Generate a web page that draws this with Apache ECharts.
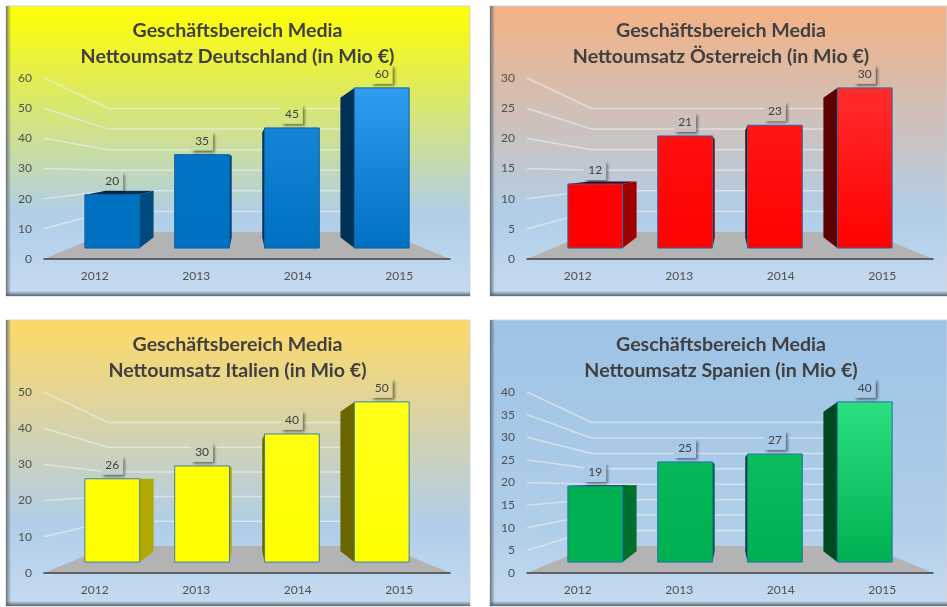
<!DOCTYPE html>
<html>
<head>
<meta charset="utf-8">
<style>
  html, body { margin: 0; padding: 0; background: #fff; }
  #chart { width: 947px; height: 607px; }
</style>
<script src="https://cdn.jsdelivr.net/npm/echarts@6/dist/echarts.min.js"></script>
</head>
<body>
<div id="chart"></div>
<script>
const years = ['2012', '2013', '2014', '2015'];

const umsatzDeutschland = [20, 35, 45, 60];
const umsatzOesterreich = [12, 21, 23, 30];
const umsatzItalien = [26, 30, 40, 50];
const umsatzSpanien = [19, 25, 27, 40];

const ticksDeutschland = [0, 10, 20, 30, 40, 50, 60];
const ticksOesterreich = [0, 5, 10, 15, 20, 25, 30];
const ticksItalien = [0, 10, 20, 30, 40, 50];
const ticksSpanien = [0, 5, 10, 15, 20, 25, 30, 35, 40];

const titles = [
  'Geschäftsbereich Media\nNettoumsatz Deutschland (in Mio €)',
  'Geschäftsbereich Media\nNettoumsatz Österreich (in Mio €)',
  'Geschäftsbereich Media\nNettoumsatz Italien (in Mio €)',
  'Geschäftsbereich Media\nNettoumsatz Spanien (in Mio €)'
];

// perspective planes, relative to the axis plane (k = 1)
const K_FRONT = 0.885;
const K_REAR = 0.77;
const K_WALL = 0.682;
const VP_BARS = 95;
const VP_WALL = 85;

const FONT = 'Lato, "Open Sans", sans-serif';

const panels = [
  { x: 6, y: 6, w: 464, h: 290, top: '#ffff00', titleX: 237.5, gl: 44, gt: 78, values: umsatzDeutschland, ticks: ticksDeutschland,
    light: '#2f9cf0', base: '#0070c0', sideR: '#004a80', sideL: '#003258', edge: '#0a62a8' },
  { x: 490, y: 6, w: 457, h: 290, top: '#f4b183', titleX: 721, gl: 527, gt: 78, values: umsatzOesterreich, ticks: ticksOesterreich,
    light: '#ff2c2c', base: '#ff0000', sideR: '#a00000', sideL: '#5c0000', edge: '#2a6aa8' },
  { x: 6, y: 320, w: 464, h: 286, top: '#ffd966', titleX: 237.5, gl: 44, gt: 392, values: umsatzItalien, ticks: ticksItalien,
    light: '#ffff1a', base: '#ffff00', sideR: '#b0a800', sideL: '#6a6600', edge: '#3a80a8' },
  { x: 490, y: 320, w: 457, h: 286, top: '#9dc3e6', titleX: 721, gl: 527, gt: 392, values: umsatzSpanien, ticks: ticksSpanien,
    light: '#2ce07f', base: '#00b050', sideR: '#00702f', sideL: '#004a22', edge: '#1f6fb0' }
];

const GRID_W = 406;
const GRID_H = 181;

function project(p, vp, k) {
  return [vp[0] + (p[0] - vp[0]) * k, vp[1] + (p[1] - vp[1]) * k];
}

function vanishing(coordSys, above) {
  return [coordSys.x + coordSys.width / 2, coordSys.y + coordSys.height - above];
}

function panelFill(p, global) {
  const stops = [
    { offset: 0, color: p.top },
    { offset: 0.72, color: '#b0cee9' },
    { offset: 1, color: '#c6dbf1' }
  ];
  if (global) {
    return { type: 'linear', x: 0, y: p.y, x2: 0, y2: p.y + p.h, global: true, colorStops: stops };
  }
  return { type: 'linear', x: 0, y: 0, x2: 0, y2: 1, colorStops: stops };
}

function renderWall(params, api) {
  const cs = params.coordSys;
  const vp = vanishing(cs, VP_WALL);
  const v = api.value(1);
  const y = api.coord([0, v])[1];
  const left = [cs.x, y];
  const right = [cs.x + cs.width, y];
  const wl = project(left, vp, K_WALL);
  const wr = project(right, vp, K_WALL);
  if (v === 0) {
    return { type: 'polygon', shape: { points: [left, right, wr, wl] }, style: { fill: '#b3b3b3' }, silent: true };
  }
  return {
    type: 'polyline',
    shape: { points: [left, wl, wr] },
    style: { fill: 'none', stroke: 'rgba(236,236,236,0.65)', lineWidth: 1.5 },
    silent: true
  };
}

function renderBar(panel) {
  const maxVal = panel.ticks[panel.ticks.length - 1];
  return function (params, api) {
    const cs = params.coordSys;
    const vp = vanishing(cs, VP_BARS);
    const i = api.value(0);
    const v = api.value(1);
    const base = api.coord([i, 0]);
    const top = api.coord([i, v]);
    const half = api.size([1, 0])[0] * 0.305;
    const corner = (x, y, k) => project([x, y], vp, k);

    const fl = corner(base[0] - half, base[1], K_FRONT);
    const fr = corner(base[0] + half, base[1], K_FRONT);
    const tl = corner(base[0] - half, top[1], K_FRONT);
    const tr = corner(base[0] + half, top[1], K_FRONT);
    const rl = corner(base[0] - half, base[1], K_REAR);
    const rr = corner(base[0] + half, base[1], K_REAR);
    const rtl = corner(base[0] - half, top[1], K_REAR);
    const rtr = corner(base[0] + half, top[1], K_REAR);

    const children = [];
    if (tl[1] > vp[1]) {
      children.push({ type: 'polygon', shape: { points: [tl, tr, rtr, rtl] }, style: { fill: panel.sideL } });
    }
    if (fl[0] > vp[0]) {
      children.push({ type: 'polygon', shape: { points: [fl, tl, rtl, rl] }, style: { fill: panel.sideL } });
    }
    if (fr[0] < vp[0]) {
      children.push({ type: 'polygon', shape: { points: [fr, tr, rtr, rr] }, style: { fill: panel.sideR } });
    }
    // taller bars pick up more of the light top colour
    const glow = Math.max(0, Math.min(1, (v / maxVal - 0.55) / 0.45));
    children.push({
      type: 'polygon',
      shape: { points: [tl, tr, fr, fl] },
      style: {
        fill: {
          type: 'linear', x: 0, y: 0, x2: 0, y2: 1,
          colorStops: [
            { offset: 0, color: echarts.color.lerp(glow, [panel.base, panel.light]) },
            { offset: 1, color: panel.base }
          ]
        },
        stroke: panel.edge,
        lineWidth: 1
      }
    });
    const cx = (tl[0] + tr[0]) / 2;
    children.push({
      type: 'rect',
      z2: 9,
      shape: { x: cx - 11, y: tl[1] - 23, width: 22, height: 19 },
      style: {
        fill: panelFill(panel, true),
        shadowColor: 'rgba(0,0,0,0.55)',
        shadowBlur: 3,
        shadowOffsetX: 2,
        shadowOffsetY: 2
      }
    });
    children.push({
      type: 'text',
      z2: 10,
      style: {
        x: cx,
        y: tl[1] - 14,
        text: String(v),
        align: 'center',
        verticalAlign: 'middle',
        fill: '#404040',
        font: '12px ' + FONT
      }
    });
    return { type: 'group', children, silent: true };
  };
}

function panelGraphics(p) {
  const grad = (x, y, x2, y2, stops) => ({
    type: 'linear', x, y, x2, y2,
    colorStops: stops.map((c, i) => ({ offset: i / (stops.length - 1), color: c }))
  });
  return [
    {
      type: 'rect',
      shape: { x: p.x, y: p.y, width: p.w, height: p.h },
      style: { fill: panelFill(p, false), stroke: '#d0d4d8', lineWidth: 1 },
      silent: true
    },
    {
      type: 'rect',
      shape: { x: p.x, y: p.y, width: 5, height: p.h },
      style: { fill: grad(0, 0, 1, 0, ['rgba(90,100,110,0.85)', 'rgba(90,100,110,0)']) },
      silent: true
    },
    {
      type: 'rect',
      shape: { x: p.x, y: p.y + p.h - 5, width: p.w, height: 5 },
      style: { fill: grad(0, 1, 0, 0, ['rgba(80,90,100,0.9)', 'rgba(80,90,100,0)']) },
      silent: true
    }
  ];
}

const chart = echarts.init(document.getElementById('chart'));

chart.setOption({
  animation: false,
  backgroundColor: '#ffffff',
  textStyle: { fontFamily: FONT },
  graphic: panels.flatMap(panelGraphics),
  title: panels.map((p, idx) => ({
    text: titles[idx],
    left: p.titleX - 5,
    top: p.y + 6,
    textAlign: 'center',
    textStyle: { color: '#404040', fontSize: 19.6, fontWeight: 'bold', lineHeight: 26.5, fontFamily: FONT }
  })),
  grid: panels.map(p => ({ left: p.gl, top: p.gt, width: GRID_W, height: GRID_H, containLabel: false })),
  xAxis: panels.map((p, idx) => ({
    type: 'category',
    gridIndex: idx,
    data: years,
    z: 5,
    axisLine: { show: true, lineStyle: { color: '#404040', width: 1.5 } },
    axisTick: { show: false },
    axisLabel: { color: '#505050', fontSize: 12, margin: 11, fontFamily: FONT }
  })),
  yAxis: panels.map((p, idx) => ({
    type: 'value',
    gridIndex: idx,
    min: 0,
    max: p.ticks[p.ticks.length - 1],
    interval: p.ticks[1],
    axisLine: { show: false },
    axisTick: { show: false },
    splitLine: { show: false },
    axisLabel: { color: '#505050', fontSize: 12, margin: 12, fontFamily: FONT }
  })),
  series: panels.flatMap((p, idx) => [
    {
      type: 'custom',
      name: 'wall' + idx,
      xAxisIndex: idx,
      yAxisIndex: idx,
      z: 1,
      clip: false,
      renderItem: renderWall,
      data: p.ticks.map(t => [0, t])
    },
    {
      type: 'custom',
      name: 'umsatz' + idx,
      xAxisIndex: idx,
      yAxisIndex: idx,
      z: 3,
      clip: false,
      renderItem: renderBar(p),
      data: p.values.map((v, i) => [i, v])
    }
  ])
});
</script>
</body>
</html>
